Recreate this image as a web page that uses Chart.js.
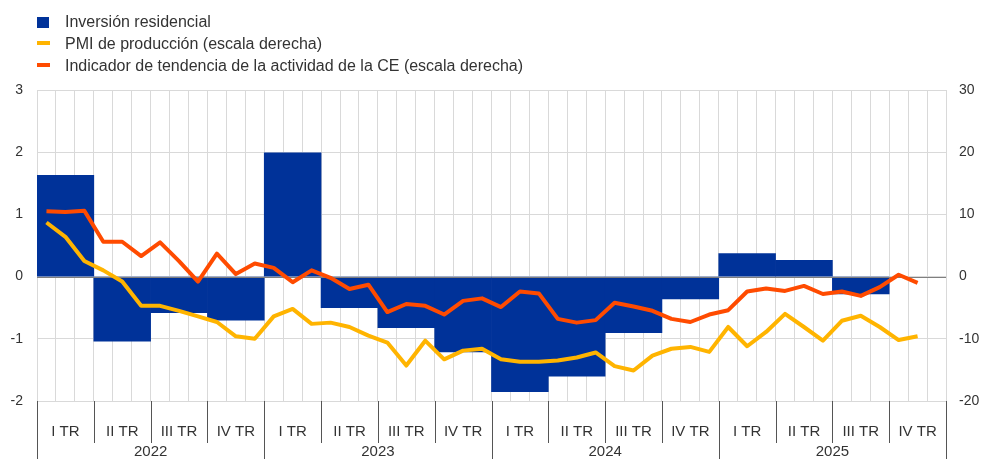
<!DOCTYPE html>
<html>
<head>
<meta charset="utf-8">
<script src="https://cdn.jsdelivr.net/npm/chart.js@4"></script>
<style>
  body { margin: 0; background: #fff; font-family: "Liberation Sans", Arial, sans-serif; }
  #wrap { position: relative; width: 985px; height: 459px; }
  #legend { position: absolute; left: 37px; top: 11px; font-size: 16px; color: #333; }
  .row { position: relative; height: 22px; line-height: 22px; padding-left: 28px; white-space: nowrap; }
  .sw { position: absolute; left: 0; }
</style>
</head>
<body>
<div id="wrap">
  <canvas id="chart" width="985" height="459"></canvas>
  <div id="legend"></div>
</div>
<script>
// quarters and years for the bottom axis
const years = ['2022', '2023', '2024', '2025'];
const quarterNames = ['I TR', 'II TR', 'III TR', 'IV TR'];

// residential investment, quarterly (left axis)
const residential = [1.63, -1.04, -0.58, -0.70, 1.99, -0.50, -0.82, -1.21,
                     -1.85, -1.60, -0.90, -0.36, 0.37, 0.26, -0.28, null];

// PMI output, monthly (right axis)
const pmi = [8.7, 6.4, 2.5, 1.0, -0.8, -4.7, -4.7, -5.5, -6.4, -7.3, -9.6, -10.0,
             -6.4, -5.2, -7.6, -7.4, -8.1, -9.5, -10.6, -14.3, -10.3, -13.3, -11.9, -11.6,
             -13.3, -13.7, -13.7, -13.5, -13.0, -12.2, -14.4, -15.1, -12.7, -11.6, -11.3, -12.1,
             -8.1, -11.2, -8.9, -6.0, -8.1, -10.3, -7.1, -6.3, -8.1, -10.2, -9.6];

// EC activity trend indicator, monthly (right axis)
const ecTrend = [10.5, 10.4, 10.6, 5.6, 5.6, 3.3, 5.5, 2.5, -0.8, 3.7, 0.4, 2.1,
                 1.4, -0.9, 1.0, -0.2, -2.0, -1.3, -5.7, -4.4, -4.7, -6.1, -3.9, -3.5,
                 -4.9, -2.4, -2.7, -6.8, -7.4, -7.0, -4.2, -4.8, -5.5, -6.8, -7.3, -6.1,
                 -5.4, -2.4, -1.9, -2.3, -1.5, -2.8, -2.4, -3.1, -1.7, 0.3, -1.0];

const BLUE = '#003299', YELLOW = '#FFB400', ORANGE = '#FF4B00';

// labels built from the years
const monthLabels = [];
const quarterLabels = [];
years.forEach(function(y) {
    for (let m = 1; m <= 12; m++) monthLabels.push(y + '-' + m);
    quarterNames.forEach(function(q) { quarterLabels.push(q + ' ' + y); });
});

// legend (html)
const legendItems = [
    { text: 'Inversión residencial', color: BLUE, box: true },
    { text: 'PMI de producción (escala derecha)', color: YELLOW },
    { text: 'Indicador de tendencia de la actividad de la CE (escala derecha)', color: ORANGE }
];
const legendEl = document.getElementById('legend');
legendItems.forEach(function(item) {
    const row = document.createElement('div');
    row.className = 'row';
    const sw = document.createElement('span');
    sw.className = 'sw';
    sw.style.background = item.color;
    if (item.box) {
        sw.style.width = '12px'; sw.style.height = '11px'; sw.style.top = '6px';
    } else {
        sw.style.width = '13px'; sw.style.height = '4px'; sw.style.top = '8px';
    }
    row.appendChild(sw);
    row.appendChild(document.createTextNode(item.text));
    legendEl.appendChild(row);
});

// zero line drawn right after the bars
const zeroLine = {
    id: 'zeroLine',
    afterDatasetDraw: function(chart, args) {
        if (args.index !== 0) return;
        const ctx = chart.ctx, a = chart.chartArea;
        const y = chart.scales.y.getPixelForValue(0);
        ctx.save();
        ctx.strokeStyle = '#7f7f7f';
        ctx.lineWidth = 1;
        ctx.beginPath();
        ctx.moveTo(a.left, Math.round(y) + 0.5);
        ctx.lineTo(a.right, Math.round(y) + 0.5);
        ctx.stroke();
        ctx.restore();
    }
};

// quarter / year labels under the plot
const bottomAxis = {
    id: 'bottomAxis',
    afterDraw: function(chart) {
        const ctx = chart.ctx, a = chart.chartArea;
        const nq = quarterLabels.length;
        const qw = (a.right - a.left) / nq;
        ctx.save();
        ctx.strokeStyle = '#555';
        ctx.lineWidth = 1;
        for (let i = 0; i <= nq; i++) {
            const x = Math.round(a.left + i * qw) + 0.5;
            ctx.beginPath();
            ctx.moveTo(x, a.bottom);
            ctx.lineTo(x, i % 4 === 0 ? 459 : a.bottom + 42);
            ctx.stroke();
        }
        ctx.fillStyle = '#333';
        ctx.textAlign = 'center';
        ctx.textBaseline = 'middle';
        ctx.font = '15px "Liberation Sans", Arial, sans-serif';
        for (let i = 0; i < nq; i++) {
            ctx.fillText(quarterNames[i % 4], a.left + (i + 0.5) * qw, a.bottom + 31);
        }
        years.forEach(function(y, j) {
            ctx.fillText(y, a.left + (j * 4 + 2) * qw, a.bottom + 51);
        });
        ctx.restore();
    }
};

new Chart(document.getElementById('chart'), {
    type: 'bar',
    data: {
        labels: monthLabels,
        datasets: [{
            type: 'bar',
            label: 'Inversión residencial',
            data: residential,
            xAxisID: 'xq',
            yAxisID: 'y',
            backgroundColor: BLUE,
            barPercentage: 1,
            categoryPercentage: 1,
            grouped: false,
            order: 3
        }, {
            type: 'line',
            label: 'PMI de producción (escala derecha)',
            data: pmi,
            xAxisID: 'x',
            yAxisID: 'y1',
            borderColor: YELLOW,
            borderWidth: 4,
            pointRadius: 0,
            tension: 0,
            borderJoinStyle: 'round',
            order: 2
        }, {
            type: 'line',
            label: 'Indicador de tendencia de la actividad de la CE (escala derecha)',
            data: ecTrend,
            xAxisID: 'x',
            yAxisID: 'y1',
            borderColor: ORANGE,
            borderWidth: 4,
            pointRadius: 0,
            tension: 0,
            borderJoinStyle: 'round',
            order: 1
        }]
    },
    options: {
        responsive: false,
        animation: false,
        layout: { padding: { top: 90, bottom: 58, left: 0, right: 0 } },
        plugins: {
            legend: { display: false },
            tooltip: { enabled: false }
        },
        scales: {
            x: {
                type: 'category',
                offset: true,
                grid: { offset: true, color: '#d9d9d9', drawTicks: false },
                border: { display: false },
                ticks: { display: false },
                afterFit: function(scale) { scale.height = 0; }
            },
            xq: {
                type: 'category',
                labels: quarterLabels,
                offset: true,
                display: false
            },
            y: {
                position: 'left',
                min: -2,
                max: 3,
                ticks: { stepSize: 1, padding: 14, color: '#333', font: { size: 14, family: '"Liberation Sans", Arial' } },
                grid: { color: '#d9d9d9', drawTicks: false },
                border: { display: false },
                afterFit: function(scale) { scale.width = 37; }
            },
            y1: {
                position: 'right',
                min: -20,
                max: 30,
                ticks: { stepSize: 10, padding: 13, color: '#333', font: { size: 14, family: '"Liberation Sans", Arial' } },
                grid: { drawOnChartArea: false, drawTicks: false },
                border: { display: false },
                afterFit: function(scale) { scale.width = 39; }
            }
        }
    },
    plugins: [zeroLine, bottomAxis]
});
</script>
</body>
</html>
